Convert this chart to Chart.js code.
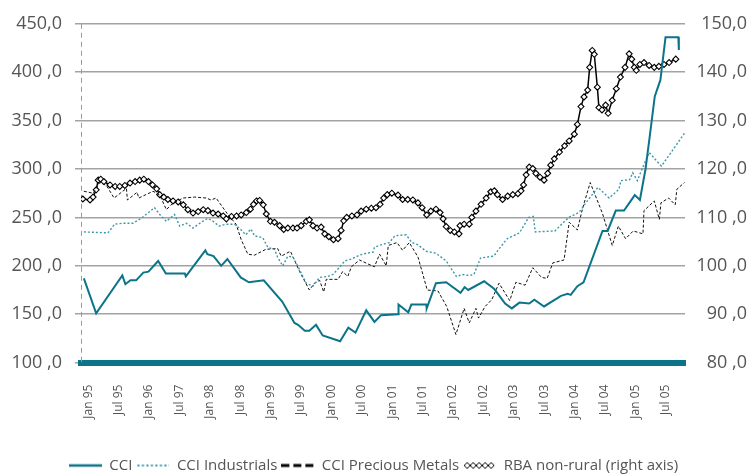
<!DOCTYPE html>
<html><head><meta charset="utf-8">
<script src="https://cdn.jsdelivr.net/npm/chart.js@4.4.0/dist/chart.umd.min.js"></script>
<style>html,body{margin:0;padding:0;background:#fff}</style>
</head><body>
<canvas id="c" width="748" height="476"></canvas>
<script>
// x unit: months since Jan 95
const xTickLabels = ['Jan 95','Jul 95','Jan 96','Jul 97','Jan 98','Jul 98','Jan 99','Jul 99','Jan 00','Jul 00',
  'Jan 01','Jul 01','Jan 02','Jul 02','Jan 03','Jul 03','Jan 04','Jul 04','Jan 05','Jul 05'];
const leftTickValues = [100,150,200,250,300,350,400,450];
const leftTickLabels = ['100 ,0','150 ,0','200 ,0','250 ,0','300 ,0','350 ,0','400 ,0','450,0'];
const rightTickValues = [80,90,100,110,120,130,140,150];
const rightTickLabels = ['80 ,0','90 ,0','100 ,0','110 ,0','120 ,0','130 ,0','140 ,0','150,0'];
const seriesNames = ['CCI','CCI Industrials','CCI Precious Metals','RBA non-rural (right axis)'];

const cciMonths = [-0.8,1.6,6.7,7.3,8.3,9.4,10.8,11.8,13.7,15.2,18.9,19.1,22.9,23.3,24.5,26,27.2,29.8,31.4,34.3,
  37.9,40.3,41,42.3,43.2,44.5,45.8,49.2,50.8,52.2,54.3,55.9,57.2,60.5,60.6,62.5,63.1,66,66.1,67.9,
  69.9,72.7,73.5,74.2,77.3,79.3,81.4,82.7,84.2,86.1,87.1,89,92.3,93.6,94.2,95.5,96.7,100.4,101.4,103,
  104.6,106.7,107.7,108.8,109.6,110.6,111.7,112.7,115.2,115.3];
const cciValues = [187,151,190,181,185,185,193,194,205,192,192,189,216,212,210,200,207,188,183,185,
  163,141,139,133,133,139,128,122,136,131,154,142,149,150,160,152,160,160,156,182,
  183,172,178,175,184,176,161,156,162,161,165,158,169,171,170,179,183,236,236,257,
  257,273,268,300,333,375,392,436,436,423];

const indMonths = [-0.8,3.9,5.2,6.8,8.8,10.4,13,14,15.3,16.9,17.9,19.2,20.5,22.4,23.4,24.4,25.6,26.9,28.6,29.9,
  30.8,31.8,32.5,34.1,35.1,36.4,37,38,39,40,41,42.6,43.9,45.2,46.8,47.8,49,50.1,51.4,53,
  54.3,55.6,55.9,56.8,58.1,58.8,59.9,62.1,63.2,64.3,66,67.9,69.9,71.9,73.1,74.4,75.3,76.6,79.2,80,
  81.8,84.2,86,86.9,87.3,91.1,93.8,95.8,97.3,99.5,101.7,103.6,104,105.7,106.3,107.2,108.2,109.5,111.9,113.9,116.4];
const indValues = [235,234,243,244,244,249,260,253,246,253,241,244,239,246,249,246,241,243,243,237,
  232,238,231,229,219,217,209,200,210,209,199,182,179,188,189,191,198,205,207,211,
  213,214,219,221,223,224,231,232,224,222,215,213,205,189,191,190,191,208,210,216,
  228,234,250,251,235,236,250,255,266,281,270,279,288,289,296,288,301,317,303,318,337];

const pmMonths = [-0.8,1,2.3,3.6,5.1,7.5,7.7,9.6,9.9,12.7,14,15.3,16.2,18.5,20.8,23.1,24,25,27.3,28.9,
  29.9,31.2,32.5,34.7,37,37.7,39.5,41.3,43.2,44.2,45.2,46,46.5,48.8,49.7,50.7,51.4,53,54.6,55.9,
  56.9,58.2,58.6,60.3,61.4,62.7,64.4,66.2,68.3,70,71.8,73.4,74.4,75.7,76.2,77.5,78.8,80.2,82.3,83.5,
  85.3,86.8,88.5,89.6,90.7,92.9,93.9,95.5,96.5,98,100.4,102.3,103.5,104.9,106.4,108.3,108.5,110.5,111.5,111.8,
  113.3,114.6,114.9,116.4];
const pmValues = [277,275,286,283,270,280,268,276,270,277,273,258,263,270,271,270,268,270,253,243,
  227,212,211,217,218,210,215,194,175,182,185,173,186,186,194,189,199,206,202,199,
  212,200,221,224,216,224,209,175,174,158,129,156,141,156,146,158,165,182,164,183,
  180,198,188,187,203,206,245,237,259,286,254,221,241,228,236,233,257,267,248,265,
  270,263,279,286];

const rbaMonths = [-1,0.4,1,1.6,2,2.5,3.1,4.3,5.3,6.2,
  7.2,8.2,9.2,10.1,10.9,11.8,12.6,13.4,14,14.8,
  15.6,16.6,17.6,18.6,19.5,20.5,21.5,22.5,23.4,24.4,
  25.4,26.4,27,28,29,29.9,30.9,31.7,32.3,32.9,
  33.5,34.2,34.8,35.6,36.4,37.4,38.2,39,40,40.8,
  41.6,42.6,43.2,43.9,44.7,45.5,46.2,47,47.9,48.8,
  49.4,49.9,50.5,51.5,52.5,53.3,54.3,55.3,56.2,57,
  57.7,58.4,59.3,60.5,61.4,62.4,63.4,64.4,65.2,66.1,
  66.9,67.9,68.7,69.3,69.9,70.7,71.5,72.4,72.6,73.4,
  74.4,74.9,75.7,76.7,77.7,78.6,79.3,79.9,80.9,81.9,
  82.9,83.9,84.5,85,85.5,86.1,86.8,87.4,88.2,89,
  89.7,90.3,91,92,93,93.9,94.9,95.5,96.2,96.8,
  97.5,97.9,98.4,98.8,99.4,99.7,100.3,101,101.5,102.3,
  103.1,103.9,104.8,105.6,106.1,106.6,107,107.7,108.5,109.5,
  110.5,111.4,112.4,113.4,114.7];
const rbaValues = [113.8,113.6,114.2,115.7,117.7,117.9,117.4,116.7,116.4,116.4,
  116.6,117.1,117.4,117.7,117.9,117.4,116.7,115.9,114.7,114.2,
  113.7,113.4,113.2,112.6,111.6,110.9,111.2,111.6,111.4,110.9,
  110.7,110.3,109.7,110.2,110.3,110.5,111,111.7,112.7,113.4,
  113.5,112.6,110.7,109.2,109,108.3,107.5,107.8,107.8,107.8,
  108.3,109.2,109.5,108.3,107.8,108,106.6,106,105.4,105.6,
  107.3,109.3,110,110.3,110.5,111.3,111.7,111.9,112,112.7,
  114,114.7,115,114.6,113.7,113.7,113.6,113,112,110.5,
  111.3,111.7,111,109.7,108.1,107.3,107,106.6,108.3,108.6,
  108.6,110,111.3,112.7,114,115.3,115.5,114.7,113.7,114.4,
  114.7,114.9,115.5,116.7,118.8,120.4,120.1,119.1,118.3,117.7,
  119.1,120.8,122.1,123.5,124.8,125.8,127.2,129.2,132.9,134.9,
  136.3,141,144.5,143.7,136.9,132.7,132.2,133.2,131.5,134.2,
  136.6,139,141,143.8,142.7,141,140.4,141.6,142,141.4,
  141,141.2,141.6,142,142.7];

const TEAL = '#0b7489';
const TEAL_LIGHT = '#3b98ac';
const TXT = '#555555';
const xLabelStart = 0.06, xLabelStep = 5.93;

const pairs = (xs, ys) => xs.map((x, i) => ({x: x, y: ys[i]}));

function icon(draw) {
  const c = document.createElement('canvas');
  c.width = 33; c.height = 10;
  draw(c.getContext('2d'));
  return c;
}
const icons = [
  icon(g => { g.strokeStyle = TEAL; g.lineWidth = 2.5; g.beginPath(); g.moveTo(0,5); g.lineTo(33,5); g.stroke(); }),
  icon(g => { g.fillStyle = TEAL_LIGHT; for (let x = 1; x < 33; x += 4.5) g.fillRect(x, 4, 2, 2); }),
  icon(g => { g.fillStyle = '#000'; for (let x = 0; x < 33; x += 12) g.fillRect(x, 3.5, 8, 3); }),
  icon(g => { g.strokeStyle = '#000'; g.fillStyle = '#fff'; g.lineWidth = 1;
    for (let x = 4; x < 33; x += 6) { g.beginPath(); g.moveTo(x-3,5); g.lineTo(x,2); g.lineTo(x+3,5); g.lineTo(x,8); g.closePath(); g.fill(); g.stroke(); } })
];

// dashed left axis line (decoration at the y scale's edge)
const axisDash = {
  id: 'axisDash',
  beforeDatasetsDraw(chart) {
    const a = chart.chartArea, ctx = chart.ctx;
    ctx.save();
    ctx.strokeStyle = '#9a9a9a'; ctx.lineWidth = 1; ctx.setLineDash([5,4]);
    ctx.beginPath(); ctx.moveTo(a.left + 0.5, a.top); ctx.lineTo(a.left + 0.5, a.bottom); ctx.stroke();
    ctx.restore();
  }
};

Chart.defaults.font.family = "'Open Sans', sans-serif";
Chart.defaults.color = TXT;

new Chart(document.getElementById('c'), {
  type: 'line',
  plugins: [axisDash],
  data: {
    datasets: [
      { label: seriesNames[0], data: pairs(cciMonths, cciValues), borderColor: TEAL, borderWidth: 2, pointRadius: 0, yAxisID: 'y', tension: 0 },
      { label: seriesNames[1], data: pairs(indMonths, indValues), borderColor: TEAL_LIGHT, borderWidth: 1.4, borderDash: [2,2], pointRadius: 0, yAxisID: 'y', tension: 0 },
      { label: seriesNames[2], data: pairs(pmMonths, pmValues), borderColor: '#111', borderWidth: 1, borderDash: [3,2], pointRadius: 0, yAxisID: 'y', tension: 0 },
      { label: seriesNames[3], data: pairs(rbaMonths, rbaValues), borderColor: '#000', borderWidth: 1.5, pointStyle: 'rectRot', pointRadius: 3, pointBorderWidth: 1.1, pointBackgroundColor: '#fff', pointBorderColor: '#000', yAxisID: 'y1', tension: 0 }
    ]
  },
  options: {
    responsive: false,
    animation: false,
    layout: { padding: { top: 22, right: 1, left: 0, bottom: -7 } },
    plugins: {
      tooltip: { enabled: false },
      legend: {
        position: 'bottom',
        labels: {
          usePointStyle: true,
          pointStyleWidth: 33,
          padding: 4,
          font: { size: 15 },
          color: TXT,
          generateLabels: chart => chart.data.datasets.map((ds, i) => ({
            text: ds.label, pointStyle: icons[i], fillStyle: 'rgba(0,0,0,0)', strokeStyle: 'rgba(0,0,0,0)',
            lineWidth: 0, hidden: false, datasetIndex: i, fontColor: TXT
          }))
        }
      }
    },
    scales: {
      x: {
        type: 'linear',
        min: -1.36, max: 116.5,
        grid: { display: false },
        border: { display: true, color: TEAL, width: 6 },
        afterBuildTicks: s => { s.ticks = xTickLabels.map((_, i) => ({ value: xLabelStart + i * xLabelStep })); },
        afterFit: s => { s.height = 91.4; },
        ticks: {
          autoSkip: false, minRotation: 90, maxRotation: 90, padding: 14,
          font: { size: 12 }, color: TXT,
          callback: (v, i) => xTickLabels[i]
        }
      },
      y: {
        position: 'left',
        min: 100, max: 450,
        afterBuildTicks: s => { s.ticks = leftTickValues.map(v => ({ value: v })); },
        afterFit: s => { s.width = 81; },
        grid: { color: '#a3a3a3', lineWidth: 1.5, tickLength: 6, drawTicks: true },
        border: { display: false },
        ticks: { padding: 13, font: { size: 18 }, color: TXT, callback: v => leftTickLabels[leftTickValues.indexOf(v)] }
      },
      y1: {
        position: 'right',
        min: 80, max: 150,
        afterBuildTicks: s => { s.ticks = rightTickValues.map(v => ({ value: v })); },
        afterFit: s => { s.width = 62; },
        grid: { display: false, drawOnChartArea: false },
        border: { display: false },
        ticks: { padding: 0, crossAlign: 'far', font: { size: 18 }, color: TXT, callback: v => rightTickLabels[rightTickValues.indexOf(v)] }
      }
    }
  }
});
</script>
</body></html>
